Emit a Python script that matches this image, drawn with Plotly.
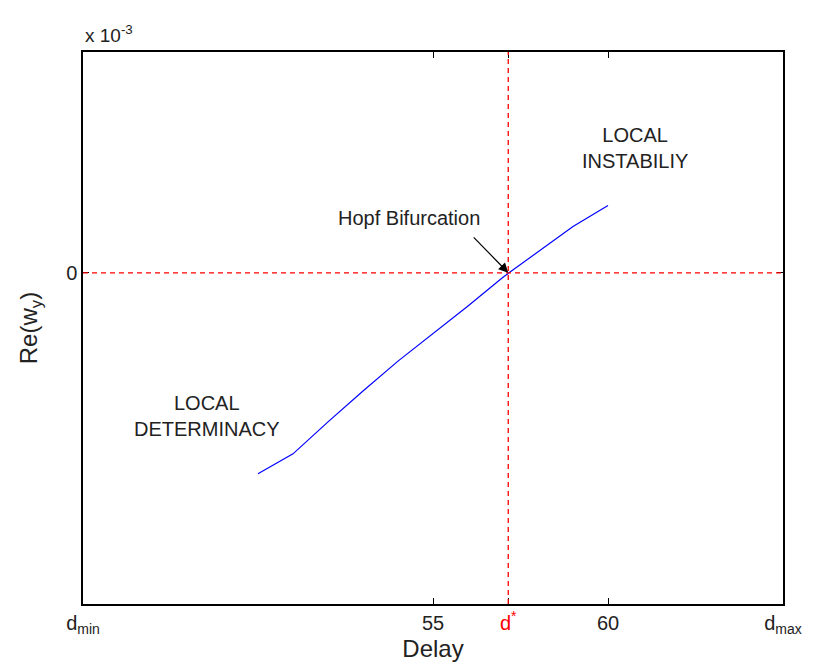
import plotly.graph_objects as go

# Data (Re(w_y) in units of 1e-3)
delay = [50, 51, 52, 53, 54, 55, 56, 57, 58, 59, 60]
re_wy = [-0.91, -0.82, -0.675, -0.535, -0.40, -0.275, -0.15, -0.02, 0.095, 0.21, 0.305]
scale = 1e-3
d_min, d_max, d_star = 45, 65, 57.15
x_tickvals = [d_min, 55, d_star, 60, d_max]
x_ticktext = ["d<sub>min</sub>", "55", "<span style='color:red'>d<sup>*</sup></span>", "60", "d<sub>max</sub>"]
y_range = [-1.5, 1.0]

font_family = "Liberation Sans, Arial, sans-serif"
txt_color = "#222222"

fig = go.Figure()
fig.add_trace(go.Scatter(x=delay, y=[v * scale for v in re_wy], mode="lines",
                         line=dict(color="#0000ff", width=1.2), showlegend=False,
                         hoverinfo="skip"))

# red dashed reference lines
fig.add_shape(type="line", xref="x", yref="paper", x0=d_star, x1=d_star, y0=0, y1=1,
              line=dict(color="#ff0000", width=1.3, dash="5px,4px"))
fig.add_shape(type="line", xref="paper", yref="y", x0=0, x1=1, y0=0, y1=0,
              line=dict(color="#ff0000", width=1.3, dash="5px,4px"))

fig.update_layout(
    width=819, height=671,
    margin=dict(l=83, r=36, t=52, b=67),
    plot_bgcolor="white", paper_bgcolor="white",
    font=dict(family=font_family, size=20, color=txt_color),
    xaxis=dict(range=[d_min, d_max], tickmode="array", tickvals=x_tickvals, ticktext=x_ticktext,
               ticks="inside", ticklen=6, tickcolor="black", showline=True, linecolor="black",
               linewidth=1.5, mirror="ticks", showgrid=False, zeroline=False,
               title=dict(text="Delay", font=dict(size=24), standoff=4),
               tickfont=dict(size=20)),
    yaxis=dict(range=[y_range[0] * scale, y_range[1] * scale], tickmode="array", tickvals=[0],
               ticktext=["0"], ticks="inside", ticklen=6, tickcolor="black", showline=True,
               linecolor="black", linewidth=1.5, mirror="ticks", showgrid=False, zeroline=False,
               title=dict(text="Re(w<sub>y</sub>)", font=dict(size=24), standoff=22),
               tickfont=dict(size=20)),
)

fig.add_annotation(xref="paper", yref="paper", x=0, y=1, yshift=4, xanchor="left", yanchor="bottom",
                   text="x 10<sup>-3</sup>", showarrow=False, font=dict(size=19))
fig.add_annotation(x=d_star, y=0, ax=-36, ay=-37, text="", showarrow=True, arrowhead=2,
                   arrowsize=1.6, arrowwidth=1.2, arrowcolor="black")
fig.add_annotation(x=54.3, y=0.249 * scale, text="Hopf Bifurcation", showarrow=False,
                   font=dict(size=20))
fig.add_annotation(x=60.77, y=0.566 * scale, text="LOCAL<br>INSTABILIY", showarrow=False,
                   font=dict(size=20))
fig.add_annotation(x=48.53, y=-0.648 * scale, text="LOCAL<br>DETERMINACY", showarrow=False,
                   font=dict(size=20))

fig.write_html("out.html")
